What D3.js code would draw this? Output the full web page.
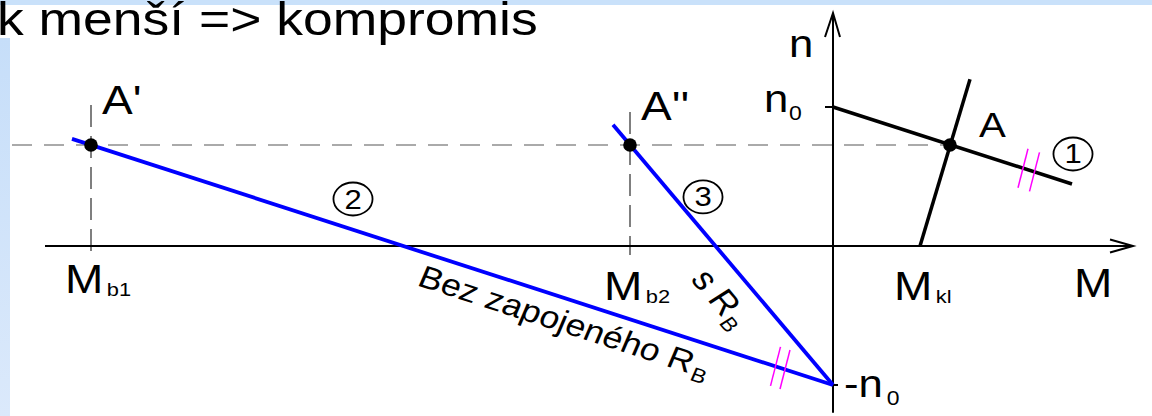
<!DOCTYPE html>
<html>
<head>
<meta charset="utf-8">
<script src="https://cdn.jsdelivr.net/npm/d3@7"></script>
<style>
  html, body { margin: 0; padding: 0; background: #fff; overflow: hidden; }
  svg { display: block; font-family: "Liberation Sans", Arial, sans-serif; }
</style>
</head>
<body>
<div id="chart"></div>
<script>
// the source picture is stretched sideways, so text and circles get this x factor
const S = 1.15;

// torque axis marks (M in arbitrary units, 0 = n axis)
const torqueNames = ["b1", "b2", "kl"];
const torqueValues = [-74.2, -20.3, 8.7];

// speed levels, relative to n0
const speedN0 = 1;
const speedA = 0.727;

// working points
const pointNames = ["A'", "A''", "A"];
const pointTorques = [-74.2, -20.3, 11.7];

// characteristics, [M, n] end points
const motorLine = [[0, 1], [23.9, 0.446]];        // 1
const brakeLine = [[-76.1, 0.771], [0, -1]];      // 2  bez R_B
const brakeLineRB = [[-22, 0.872], [0, -1]];      // 3  s R_B
const loadLine = [[8.7, 0], [13.7, 1.2]];

// circled numbers
const circleLabels = ["1", "2", "3"];
const circleM = [24, -48, -13];
const circleN = [0.662, 0.338, 0.353];

// "parallel" double ticks on lines 1 and 2
const tickLines = [motorLine, motorLine, brakeLine, brakeLine];
const tickM = [19.0, 20.15, -5.75, -4.8];

const width = 1152, height = 416;

const svg = d3.select("#chart")
    .append("svg")
    .attr("width", width)
    .attr("height", height);

// slide background bits
const grad = svg.append("defs").append("linearGradient")
    .attr("id", "side").attr("x1", 0).attr("y1", 0).attr("x2", 0).attr("y2", 1);
grad.append("stop").attr("offset", "0%").attr("stop-color", "#c6def9");
grad.append("stop").attr("offset", "100%").attr("stop-color", "#dbe9fb");
svg.append("rect").attr("x", 0).attr("y", 0).attr("width", width).attr("height", 5).attr("fill", "#c9e1fa");
svg.append("rect").attr("x", 0).attr("y", 38).attr("width", 10).attr("height", height - 38).attr("fill", "url(#side)");

// title line (cut off on the left like in the slide)
svg.append("text")
    .attr("transform", `translate(-3,35) scale(${S},1)`)
    .style("font-size", "46.5px")
    .text("k menší => kompromis");

// scales
const x = d3.scaleLinear().domain([-80, 30]).range([33, 1133]);
const y = d3.scaleLinear().domain([-1, 1]).range([385, 107]);

const nAt = (line, m) => line[0][1] + (line[1][1] - line[0][1]) * (m - line[0][0]) / (line[1][0] - line[0][0]);
const path = d3.line().x(d => x(d[0])).y(d => y(d[1]));

// dashed guides
svg.append("line")
    .attr("x1", x(-82.1)).attr("x2", x(pointTorques[2]))
    .attr("y1", y(speedA)).attr("y2", y(speedA))
    .attr("stroke", "#aaa").attr("stroke-width", 2)
    .attr("stroke-dasharray", "20,12");

svg.selectAll(".vguide")
    .data([[torqueValues[0], 1.014, -0.043], [torqueValues[1], 0.964, -0.065]])
    .enter().append("line")
    .attr("class", "vguide")
    .attr("x1", d => x(d[0])).attr("x2", d => x(d[0]))
    .attr("y1", d => y(d[1])).attr("y2", d => y(d[2]))
    .attr("stroke", "#555").attr("stroke-width", 1.5)
    .attr("stroke-dasharray", "22,9");

// axes
const axisG = svg.append("g").attr("stroke", "#000").attr("stroke-width", 2).attr("fill", "none");
axisG.append("line").attr("x1", x(-78.8)).attr("x2", x(30)).attr("y1", y(0)).attr("y2", y(0));
axisG.append("path").attr("d", `M${x(30) - 23},${y(0) - 6.5}L${x(30)},${y(0)}L${x(30) - 23},${y(0) + 6.5}`);
axisG.append("line").attr("x1", x(0)).attr("x2", x(0)).attr("y1", y(-1.2)).attr("y2", y(1.676));
axisG.append("path").attr("d", `M${x(0) - 8},${y(1.676) + 24}L${x(0)},${y(1.676)}L${x(0) + 7},${y(1.676) + 24}`);
axisG.append("line").attr("x1", x(0) - 8).attr("x2", x(0)).attr("y1", y(speedN0)).attr("y2", y(speedN0));
axisG.append("line").attr("x1", x(0)).attr("x2", x(0) + 5).attr("y1", y(-speedN0)).attr("y2", y(-speedN0));

// characteristics
svg.append("path").attr("d", path(motorLine)).attr("stroke", "#000").attr("stroke-width", 3.5).attr("fill", "none");
svg.append("path").attr("d", path(loadLine)).attr("stroke", "#000").attr("stroke-width", 3.5).attr("fill", "none");
svg.append("path").attr("d", path(brakeLine)).attr("stroke", "#0000ff").attr("stroke-width", 3.8).attr("fill", "none");
svg.append("path").attr("d", path(brakeLineRB)).attr("stroke", "#0000ff").attr("stroke-width", 3.8).attr("fill", "none");

// parallel marks
svg.selectAll(".ptick")
    .data(tickM)
    .enter().append("line")
    .attr("class", "ptick")
    .attr("x1", (d, i) => x(d) - 5).attr("x2", (d, i) => x(d) + 5)
    .attr("y1", (d, i) => y(nAt(tickLines[i], d)) + 19.5)
    .attr("y2", (d, i) => y(nAt(tickLines[i], d)) - 19.5)
    .attr("stroke", "#ff00ff").attr("stroke-width", 1.5);

// working points
svg.selectAll(".pt")
    .data(pointTorques)
    .enter().append("circle")
    .attr("class", "pt")
    .attr("cx", d => x(d)).attr("cy", y(speedA)).attr("r", 6.8)
    .attr("fill", "#000");

// circled numbers
const circ = svg.selectAll(".num")
    .data(circleLabels)
    .enter().append("g")
    .attr("class", "num")
    .attr("transform", (d, i) => `translate(${x(circleM[i])},${y(circleN[i])})`);
circ.append("ellipse").attr("rx", 17 * S).attr("ry", 16.5).attr("fill", "none").attr("stroke", "#000").attr("stroke-width", 1.8);
circ.append("text")
    .attr("transform", `scale(${S},1)`)
    .attr("text-anchor", "middle").attr("y", 9.5)
    .style("font-size", "27px")
    .text(d => d);

// text helper: main text with optional subscript, stretched by S
function label(px, py, main, size, sub, subSize, subDx, subDy, rot) {
    const t = svg.append("text")
        .attr("transform", `translate(${px},${py}) scale(${S},1) rotate(${rot || 0})`)
        .style("font-size", size + "px");
    t.append("tspan").text(main);
    if (sub) {
        t.append("tspan").attr("dx", subDx).attr("dy", subDy)
            .style("font-size", subSize + "px").text(sub);
    }
    return t;
}

// point labels
label(x(pointTorques[0]) + 11, y(speedA) - 31, pointNames[0], 40);
label(x(pointTorques[1]) + 11, y(speedA) - 25, pointNames[1], 40);
label(x(pointTorques[2]) + 29, y(speedA) - 8, pointNames[2], 35);

// torque labels
const mDy = [47, 54, 54];
torqueValues.forEach((m, i) => {
    label(x(m) - 26, y(0) + mDy[i], "M", 40, torqueNames[i], 19, 3, 3);
});
label(x(30) - 59, y(0) + 51, "M", 40);

// speed labels
label(x(0) - 44, y(1.676) + 44, "n", 38);
label(x(0) - 69, y(speedN0) + 5, "n", 38, "0", 20, 0.5, 8);
label(x(0) + 11, y(-speedN0) + 12, "-n", 38, "0", 20, 3.5, 8);

// texts along the braking lines
const ang2 = Math.atan(S * (y(nAt(brakeLine, 0)) - y(nAt(brakeLine, -70))) / (x(0) - x(-70))) * 180 / Math.PI;
const ang3 = Math.atan(S * (y(nAt(brakeLineRB, 0)) - y(nAt(brakeLineRB, -20))) / (x(0) - x(-20))) * 180 / Math.PI;
label(x(-41.7), y(nAt(brakeLine, -41.7)) + 35, "Bez zapojeného R", 31, "B", 20, 2, 6, ang2);
label(x(-14.32), y(nAt(brakeLineRB, -14.32)) + 63.8, "s R", 32, "B", 20, 2, 6, ang3);
</script>
</body>
</html>
